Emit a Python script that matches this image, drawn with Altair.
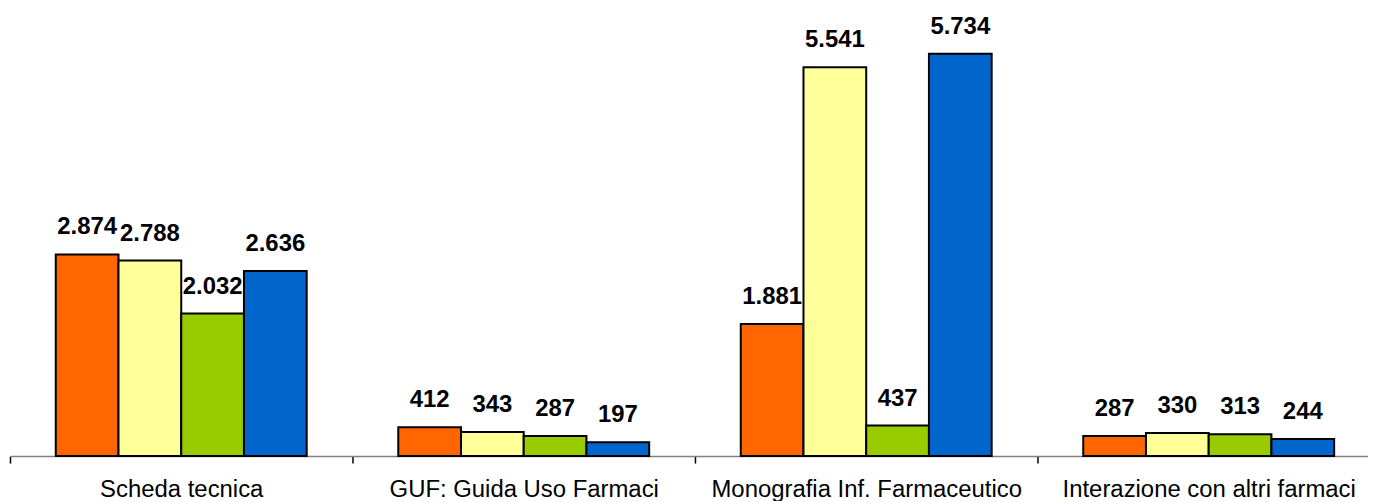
import altair as alt
import pandas as pd

categories = [
    "Scheda tecnica",
    "GUF: Guida Uso Farmaci",
    "Monografia Inf. Farmaceutico",
    "Interazione con altri farmaci",
]
series = ["Serie 1", "Serie 2", "Serie 3", "Serie 4"]
colors = ["#FF6600", "#FFFF99", "#99CC00", "#0066CC"]

serie1 = [2874, 412, 1881, 287]
serie2 = [2788, 343, 5541, 330]
serie3 = [2032, 287, 437, 313]
serie4 = [2636, 197, 5734, 244]

rows = []
for s, vals in zip(series, [serie1, serie2, serie3, serie4]):
    for c, v in zip(categories, vals):
        rows.append({"categoria": c, "serie": s, "valore": v})
df = pd.DataFrame(rows)

FONT = "Liberation Sans"

x = alt.X(
    "categoria:N",
    sort=categories,
    scale=alt.Scale(paddingInner=0, paddingOuter=0),
    axis=alt.Axis(
        title=None,
        labelAngle=0,
        tickBand="extent",
        domainColor="#808080",
        domainWidth=1.5,
        tickColor="#000000",
        tickWidth=1.5,
        tickSize=7,
        labelPadding=15,
        labelFontSize=24,
        labelFont=FONT,
        labelColor="black",
        labelLimit=0,
        grid=False,
    ),
)
xo = alt.XOffset("serie:N", sort=series, scale=alt.Scale(paddingOuter=0.73, paddingInner=0))
y = alt.Y("valore:Q", scale=alt.Scale(domain=[0, 6000]), axis=None)

base = alt.Chart(df).encode(x=x, xOffset=xo, y=y)

bars = base.mark_bar(stroke="black", strokeWidth=2).encode(
    color=alt.Color("serie:N", sort=series, scale=alt.Scale(domain=series, range=colors), legend=None)
)

text = base.transform_calculate(
    etichetta="replace(format(datum.valore, ','), ',', '.')"
).mark_text(
    font=FONT, fontSize=24, fontWeight="bold", color="black", baseline="middle", dy=-27
).encode(text="etichetta:N")

chart = (
    alt.layer(bars, text)
    .properties(
        width=1376,
        height=423,
        padding={"left": 2, "top": 26, "right": -12, "bottom": 44},
        autosize="none",
        background="white",
    )
    .configure_view(stroke=None)
)

chart.save("out.html", embed_options={"renderer": "svg", "actions": False})
